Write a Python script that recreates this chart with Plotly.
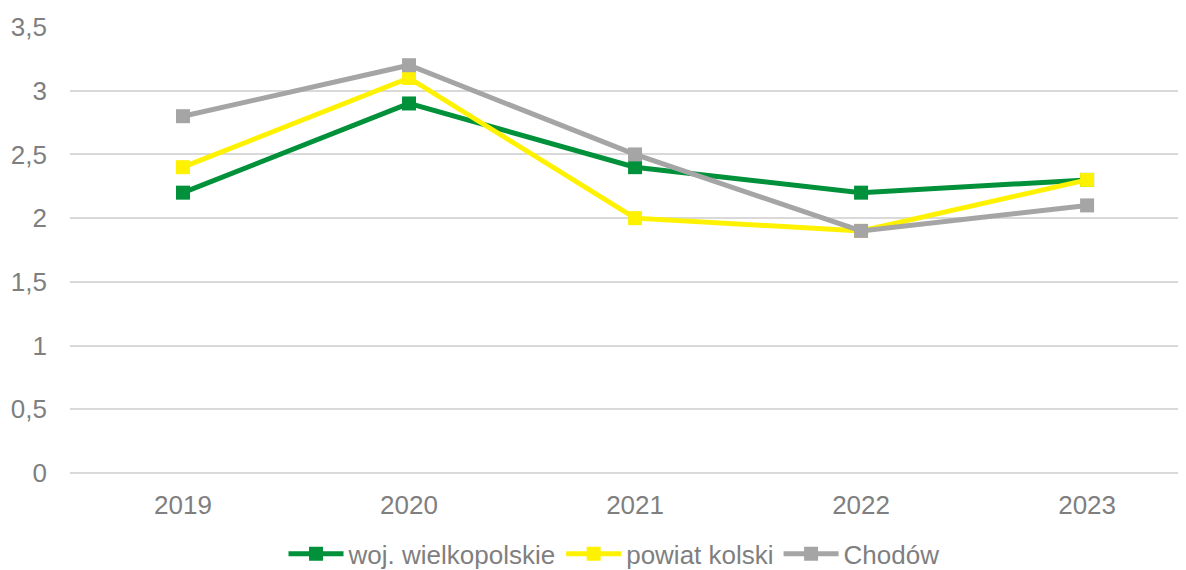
import plotly.graph_objects as go

years = ["2019", "2020", "2021", "2022", "2023"]
woj = [2.2, 2.9, 2.4, 2.2, 2.3]
powiat = [2.4, 3.1, 2.0, 1.9, 2.3]
chodow = [2.8, 3.2, 2.5, 1.9, 2.1]
y_ticks = [0, 0.5, 1, 1.5, 2, 2.5, 3, 3.5]

series = [
    ("woj. wielkopolskie", woj, "#00913A"),
    ("powiat kolski", powiat, "#FFF200"),
    ("Chodów", chodow, "#A5A5A5"),
]

fig = go.Figure()
for name, vals, col in series:
    fig.add_trace(go.Scatter(
        x=years, y=vals, name=name, mode="lines+markers",
        line=dict(color=col, width=5),
        marker=dict(symbol="square", size=14, color=col),
    ))

fig.update_layout(
    width=1186, height=570,
    margin=dict(l=62, r=0, t=19, b=105, autoexpand=False),
    paper_bgcolor="white", plot_bgcolor="white",
    separators=", ",
    font=dict(family="Liberation Sans, Arial, sans-serif", size=26, color="#7F7F7F"),
    showlegend=True,
    legend=dict(orientation="h", x=0.484, xanchor="center", y=-0.181, yanchor="middle",
                font=dict(size=26, color="#7F7F7F"), tracegroupgap=0, itemwidth=55),
    xaxis=dict(type="category", range=[-0.5, 4.473], showgrid=False, showline=False,
               ticks="", ticklabelstandoff=14, tickfont=dict(size=26, color="#7F7F7F")),
    yaxis=dict(range=[0, 3.5], tickvals=y_ticks, showgrid=True, gridcolor="#D9D9D9", gridwidth=1.5,
               zeroline=True, zerolinecolor="#D9D9D9", zerolinewidth=1.5, showline=False,
               ticks="", ticklabelstandoff=22,
               tickfont=dict(size=26, color="#7F7F7F")),
)
fig.write_html("out.html")
